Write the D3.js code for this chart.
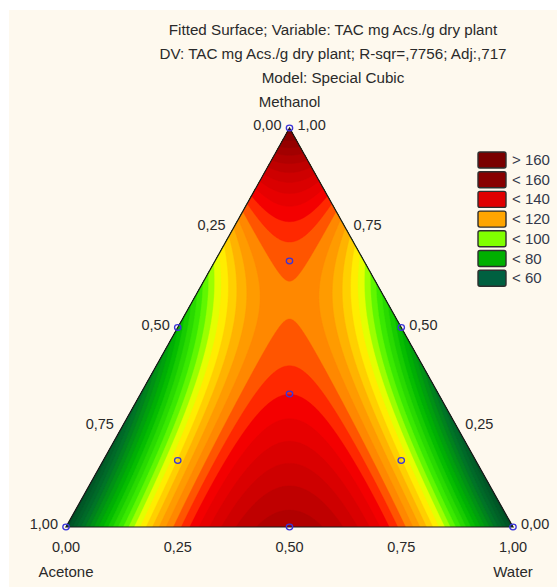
<!DOCTYPE html>
<html>
<head>
<meta charset="utf-8">
<script src="https://cdn.jsdelivr.net/npm/d3@7"></script>
<style>
  html, body { margin: 0; padding: 0; background: #ffffff; }
  svg { display: block; }
  text { font-family: "Liberation Sans", Arial, sans-serif; fill: #2a2a2a; }
</style>
</head>
<body>
<svg id="chart" width="557" height="587"></svg>
<script>
// Mixture components (top, bottom-left, bottom-right corners)
const components = ["Methanol", "Acetone", "Water"];

// Special cubic model: linear terms (Methanol, Acetone, Water)
const linearTerms = [175, 45, 45];
// Binary terms: Methanol*Acetone, Methanol*Water, Acetone*Water
const binaryTerms = [-123, -123, 452];
// Ternary term: Methanol*Acetone*Water
const ternaryTerm = 654;

// Design points (mixture proportions)
const designMethanol = [1, 0, 0, 0.5, 0.5, 0, 1/3, 2/3, 1/6, 1/6];
const designAcetone  = [0, 1, 0, 0.5, 0, 0.5, 1/3, 1/6, 2/3, 1/6];
const designWater    = [0, 0, 1, 0, 0.5, 0.5, 1/3, 1/6, 1/6, 2/3];

// Axis ticks
const axisTicks = [0, 0.25, 0.5, 0.75, 1];

// Contour thresholds and legend
const contourLevels = [27.5, 31.5, 35.5, 39.5, 43.5, 47.5, 51.5, 55.5, 59.5, 63.5, 67.5,
                       71.5, 75.5, 79.5, 83.5, 87.5, 91.5, 95.5, 99.5, 103.5, 107.5,
                       111.5, 115.5, 119.5, 123.5, 127.5, 131.5, 135.5, 139.5, 143.5,
                       147.5, 151.5, 155.5, 159.5, 163.5, 167.5, 171.5, 175.5, 179.5];
const legendLabels = ["> 160", "< 160", "< 140", "< 120", "< 100", "< 80", "< 60"];

// Colour ramp
const rampValues = [45, 60, 80, 95, 100, 107, 114, 119.5, 125.5, 129.5, 133.5, 137.5, 150, 162, 177];
const rampColors = ["#004d26", "#006e2a", "#00b800", "#40ee00", "#80ff00", "#ffff00",
                    "#ffcc00", "#ffa500", "#ff8800", "#ff5500", "#ff2800", "#f40000",
                    "#cc0000", "#a00000", "#720000"];
const legendColors = ["#7a0000", "#880000", "#e00000", "#ffa500", "#80ff00", "#00b000", "#006040"];

const svg = d3.select("#chart");

// Panel background
svg.append("rect").attr("x", 9).attr("y", 10).attr("width", 548).attr("height", 577)
  .attr("fill", "#fef9ee");

// Ternary geometry: methanol on the vertical, (water + methanol/2) on the horizontal
const yScale = d3.scaleLinear().domain([0, 1]).range([527, 128]);
const xScale = d3.scaleLinear().domain([0, 1]).range([66, 513]);
const px = (m, a, w) => xScale(w + m / 2);
const py = (m, a, w) => yScale(m);

function model(m, a, w) {
  return linearTerms[0] * m + linearTerms[1] * a + linearTerms[2] * w
       + binaryTerms[0] * m * a + binaryTerms[1] * m * w + binaryTerms[2] * a * w
       + ternaryTerm * m * a * w;
}

const color = d3.scaleLinear().domain(rampValues).range(rampColors).clamp(true);

// Sample the fitted surface on a pixel grid
const step = 1.5, gx0 = 60, gy0 = 120;
const nx = Math.ceil((520 - gx0) / step) + 1;
const ny = Math.ceil((532 - gy0) / step) + 1;
const grid = new Array(nx * ny);
for (let j = 0; j < ny; j++) {
  for (let i = 0; i < nx; i++) {
    const x = gx0 + (i + 0.5) * step, y = gy0 + (j + 0.5) * step;
    const m = yScale.invert(y);
    const w = xScale.invert(x) - m / 2;
    const a = 1 - m - w;
    grid[j * nx + i] = model(m, a, w);
  }
}
const contours = d3.contours().size([nx, ny]).thresholds(contourLevels)(grid);
const toPixels = d3.geoTransform({
  point(x, y) { this.stream.point(gx0 + x * step, gy0 + y * step); }
});
const path = d3.geoPath(toPixels);

const corners = [[1, 0, 0], [0, 1, 0], [0, 0, 1]].map(c => [px(...c), py(...c)]);
svg.append("clipPath").attr("id", "tri")
  .append("polygon").attr("points", corners.map(p => p.join(",")).join(" "));

const bandStep = contourLevels[1] - contourLevels[0];
svg.append("g").attr("clip-path", "url(#tri)")
  .selectAll("path").data(contours).join("path")
  .attr("d", path)
  .attr("fill", d => color(d.value + bandStep / 2))
  .attr("stroke", d => color(d.value + bandStep / 2))
  .attr("stroke-width", 0.4);

// Triangle outline
svg.append("polygon").attr("points", corners.map(p => p.join(",")).join(" "))
  .attr("fill", "none").attr("stroke", "#1a1a1a").attr("stroke-width", 1.2)
  .attr("stroke-linejoin", "miter");

// Design points
svg.append("g").selectAll("ellipse").data(designMethanol.map((m, i) => [m, designAcetone[i], designWater[i]]))
  .join("ellipse")
  .attr("cx", d => px(...d)).attr("cy", d => py(...d))
  .attr("rx", 3.2).attr("ry", 2.8)
  .attr("fill", "none").attr("stroke", "#3b35d8").attr("stroke-width", 1.3);

const fmt = v => d3.format(".2f")(v).replace(".", ",");
const tickSize = "14.5px", labelSize = "15px";

// Left edge: acetone proportion
svg.append("g").selectAll("text").data(axisTicks).join("text")
  .attr("x", t => px(1 - t, t, 0) - 8).attr("y", t => py(1 - t, t, 0) + 2)
  .attr("text-anchor", "end").attr("font-size", tickSize).text(fmt);

// Right edge: methanol proportion
svg.append("g").selectAll("text").data(axisTicks).join("text")
  .attr("x", t => px(t, 0, 1 - t) + 8).attr("y", t => py(t, 0, 1 - t) + 2)
  .attr("text-anchor", "start").attr("font-size", tickSize).text(fmt);

// Bottom edge: water proportion
svg.append("g").selectAll("text").data(axisTicks).join("text")
  .attr("x", t => px(0, 1 - t, t)).attr("y", 552)
  .attr("text-anchor", "middle").attr("font-size", tickSize).text(fmt);

// Component names
svg.append("text").attr("x", px(1, 0, 0)).attr("y", 107).attr("text-anchor", "middle")
  .attr("font-size", labelSize).text(components[0]);
svg.append("text").attr("x", px(0, 1, 0)).attr("y", 577).attr("text-anchor", "middle")
  .attr("font-size", labelSize).text(components[1]);
svg.append("text").attr("x", px(0, 0, 1)).attr("y", 577).attr("text-anchor", "middle")
  .attr("font-size", labelSize).text(components[2]);

// Titles
const titles = ["Fitted Surface; Variable: TAC mg Acs./g dry plant",
                "DV: TAC mg Acs./g dry plant; R-sqr=,7756; Adj:,717",
                "Model: Special Cubic"];
svg.append("g").selectAll("text").data(titles).join("text")
  .attr("x", 333).attr("y", (d, i) => 35 + i * 24)
  .attr("text-anchor", "middle").attr("font-size", "15.2px").text(d => d);

// Legend
const legend = svg.append("g");
legend.selectAll("rect").data(legendLabels).join("rect")
  .attr("x", 478).attr("y", (d, i) => 152 + i * 19.7)
  .attr("width", 28).attr("height", 16).attr("rx", 2)
  .attr("fill", (d, i) => legendColors[i])
  .attr("stroke", "#2e2e2e").attr("stroke-width", 1.4);
legend.selectAll("text").data(legendLabels).join("text")
  .attr("x", 512).attr("y", (d, i) => 165 + i * 19.7)
  .attr("font-size", labelSize).style("fill", "#33384a").text(d => d);
</script>
</body>
</html>
